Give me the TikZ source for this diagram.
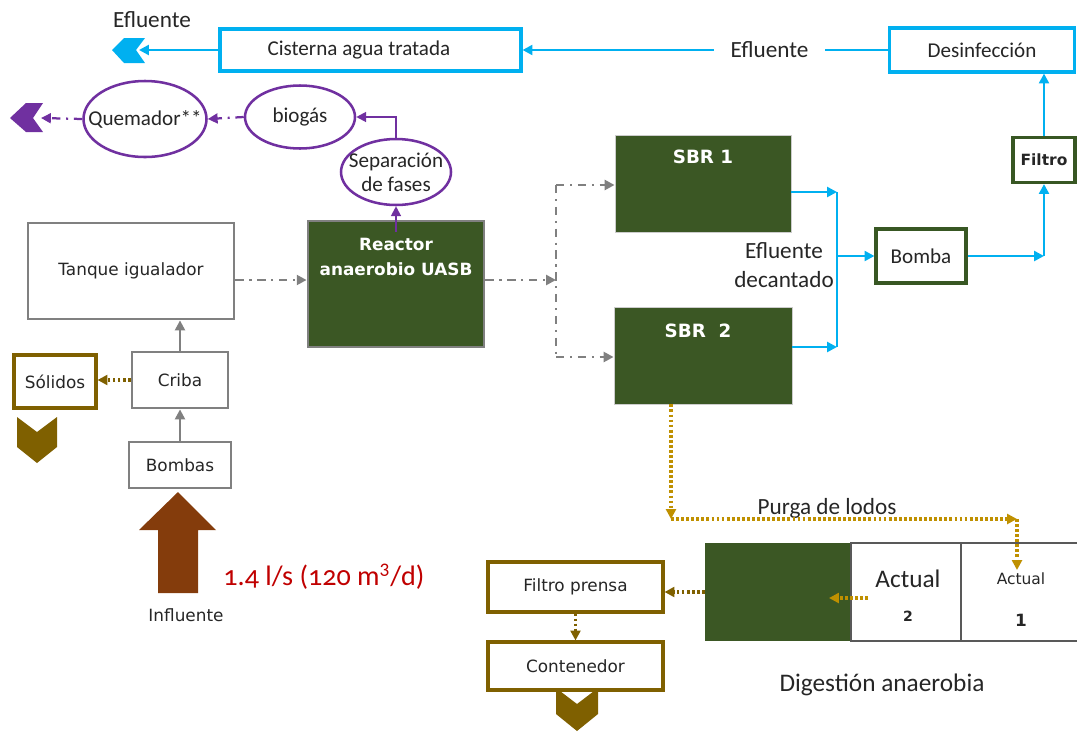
\documentclass[tikz,border=0pt]{standalone}
\usepackage{fontspec}
\setmainfont{Carlito}
\newfontfamily\tahoma{DejaVu Sans}
\newfontfamily\viejos{Carlito}[Numbers=OldStyle]
\usepackage{tikz}
\usetikzlibrary{shapes.geometric, arrows.meta}
\usetikzlibrary{positioning}
\usetikzlibrary{calc}

\definecolor{azul}{HTML}{00B0F0}
\definecolor{morado}{HTML}{7030A0}
\definecolor{verde}{HTML}{3B5724}
\definecolor{verdeborde}{HTML}{385723}
\definecolor{gris}{HTML}{808080}
\definecolor{grisosc}{HTML}{595959}
\definecolor{oliva}{HTML}{7F6000}
\definecolor{oro}{HTML}{BF9000}
\definecolor{cafe}{HTML}{843C0C}
\definecolor{rojo}{HTML}{C00000}
\definecolor{texto}{HTML}{262626}

\newcommand{\fcuerpo}{\fontsize{15}{18}\selectfont}
\newcommand{\fgrande}{\fontsize{16.5}{20.5}\selectfont}
\newcommand{\ftah}{\tahoma\fontsize{12}{14}\selectfont}

\tikzstyle{caja} = [draw=gris, line width=2pt, fill=white, text=texto, inner sep=0pt, font=\ftah]
\tikzstyle{cajaazul} = [draw=azul, line width=2.2pt, fill=white, text=texto, inner sep=0pt]
\tikzstyle{cajaverde} = [draw=verdeborde, line width=2.2pt, fill=white, text=texto, inner sep=0pt]
\tikzstyle{cajaoliva} = [draw=oliva, line width=2.2pt, fill=white, text=texto, inner sep=0pt, font=\ftah]
\tikzstyle{sbr} = [draw=gris!40, line width=0.6pt, fill=verde, inner sep=0pt]
\tikzstyle{reactor} = [draw=gris, line width=2pt, fill=verde, inner sep=0pt]
\tikzstyle{digverde} = [fill=verde, inner sep=0pt]
\tikzstyle{digcaja} = [draw=grisosc, line width=2pt, fill=white, inner sep=0pt]
\tikzstyle{elipse} = [ellipse, draw=morado, line width=1.8pt, fill=white, inner sep=0pt]
\tikzstyle{blanco} = [text=white, font=\tahoma\bfseries\fontsize{13}{15}\selectfont]
\tikzstyle{flechaazul} = [draw=azul, line width=2pt, ->]
\tikzstyle{lineaazul} = [draw=azul, line width=2pt]
\tikzstyle{discgris} = [draw=gris, line width=1.8pt, dash pattern=on 6pt off 4pt on 1.5pt off 4pt, ->]
\tikzstyle{lineagris} = [draw=gris, line width=1.8pt, dash pattern=on 6pt off 4pt on 1.5pt off 4pt]
\tikzstyle{flechagris} = [draw=gris, line width=1.6pt, ->]
\tikzstyle{flechamorada} = [draw=morado, line width=1.4pt, ->]
\tikzstyle{discmorada} = [draw=morado, line width=1.6pt, dash pattern=on 6pt off 4pt on 1.5pt off 4pt, ->]
\tikzstyle{puntooro} = [draw=oro, line width=2.2pt, dash pattern=on 2pt off 1.6pt, ->]
\tikzstyle{puntooliva} = [draw=oliva, line width=2.2pt, dash pattern=on 2pt off 1.6pt, ->]

\begin{document}
\begin{tikzpicture}[x=0.025cm, y=-0.025cm, font=\fcuerpo, text=texto,
  >={Triangle[length=7pt,width=7pt]},
  dims/.style 2 args={minimum width=#1*0.025cm, minimum height=#2*0.025cm}]
\useasboundingbox (0,0) rectangle (1077,731);

\node[cajaazul, dims={301}{42}] (cisterna) at (370.5,50) {Cisterna agua tratada\hspace*{1.1em}};
\node[cajaazul, dims={185}{44}] (desinf) at (982,50) {Desinfección};
\node[cajaverde, dims={62}{45}, font=\tahoma\bfseries\fontsize{11}{13}\selectfont] (filtro) at (1044,160) {Filtro};
\node[cajaverde, dims={90}{54}] (bomba) at (921,256) {Bomba};
\node[sbr, dims={176}{97}] (sbr1) at (703,183.5) {};
\node[sbr, dims={178}{97}] (sbr2) at (703,355.5) {};
\node[reactor, dims={176}{126}] (reactor) at (396,284) {};
\node[caja, dims={206}{96}] (tanque) at (131,271) {Tanque igualador};
\node[caja, dims={96}{56}] (criba) at (180,380) {Criba};
\node[cajaoliva, dims={82}{53}] (solidos) at (55,381.5) {Sólidos};
\node[caja, dims={102}{46}] (bombas) at (180,465) {Bombas};
\node[elipse, dims={123}{76}, label=center:Quemador**] (quemador) at (145,119) {};
\node[elipse, dims={110}{63}, label=center:biogás] (biogas) at (300,117) {};
\node[elipse, dims={110}{66}, label={[align=center, font=\fontsize{15}{17}\selectfont]center:Separación\\de fases}] (separ) at (396,172) {};
\node[cajaoliva, dims={175}{50}] (fprensa) at (575.5,587) {Filtro prensa};
\node[cajaoliva, dims={175}{48}] (contenedor) at (575.5,666) {Contenedor};
\node[digverde, dims={146}{98}] (dig) at (778,592) {};
\node[digcaja, dims={110}{98}] (act2) at (906,592) {};
\node[digcaja, dims={130}{98}] (act1) at (1026,592) {};

\node[blanco] (sbr1txt) at (703,157) {SBR 1};
\node[blanco] (sbr2txt) at (698,331) {SBR\ \ 2};
\node[blanco, align=center, font=\tahoma\bfseries\fontsize{12}{17.7}\selectfont] (reactortxt) at (396,257) {Reactor\\anaerobio UASB};
\node[font=\fontsize{18}{20}\selectfont] (act2txt) at (908,579) {Actual};
\node[font=\tahoma\bfseries\fontsize{10}{12}\selectfont] (act2num) at (908,616) {2};
\node[font=\tahoma\fontsize{11}{13}\selectfont] (act1txt) at (1021,579) {Actual};
\node[font=\tahoma\bfseries\fontsize{12}{14}\selectfont] (act1num) at (1021,620) {1};
\node[font=\fgrande] (eflsal) at (152,20) {Efluente};
\node[font=\fgrande, align=center] (decant) at (784,265) {Efluente\\decantado};
\node[font=\fgrande] (purga) at (827,508) {Purga de lodos};
\node[font=\fontsize{18}{20}\selectfont] (digest) at (882,685) {Digestión anaerobia};
\node[font=\ftah] (influente) at (186,615) {Influente};
\node[text=rojo, font=\viejos\fontsize{20}{22}\selectfont] (caudal) at (324,577) {1.4 l/s (120 m\textsuperscript{3}/d)};

\coordinate (efl) at (139,50);
\coordinate (quemout) at (41,118);
\coordinate (feed) at (556,280);
\coordinate (split1) at (556,185);
\coordinate (split2) at (556,357);
\coordinate (jtop) at (837,192);
\coordinate (jbot) at (837,347);
\coordinate (jmid) at (837,256);
\coordinate (jfil) at (1044,256);
\coordinate (purga1) at (671,519);
\coordinate (purga2) at (1017,519);
\coordinate (purga3) at (1017,570);
\coordinate (lodo1) at (868,598);
\coordinate (lodo2) at (829,598);

\fill[azul] (112,50) -- (124,38) -- (145,38) -- (136,50) -- (145,63) -- (124,63) -- cycle;
\fill[morado] (10,118) -- (26,103) -- (43,103) -- (33,118) -- (43,132) -- (26,132) -- cycle;
\fill[oliva] (17,417) -- (37,432) -- (57,417) -- (57,447) -- (37,463) -- (17,447) -- cycle;
\fill[oliva] (556,688) -- (577,704) -- (598,688) -- (598,714) -- (577,731) -- (556,714) -- cycle;
\fill[cafe] (158,593) -- (158,530) -- (139,530) -- (178,492) -- (216,530) -- (198,530) -- (198,593) -- cycle;

\draw[flechaazul] (desinf.west) -- node[pos=0.324, fill=white, inner xsep=12pt, font=\fgrande] (eflmed) {Efluente} (cisterna.east);
\draw[flechaazul] (cisterna.west) -- (efl);
\draw[flechaazul] (filtro.north) -- (filtro.north |- desinf.south);
\draw[flechaazul] (bomba.east) -- (jfil);
\draw[flechaazul] (jfil) -- (filtro.south);
\draw[flechaazul] (sbr1.east |- jtop) -- (jtop);
\draw[flechaazul] (sbr2.east |- jbot) -- (jbot);
\draw[lineaazul] (jtop) -- (jbot);
\draw[flechaazul] (jmid) -- (bomba.west);
\draw[discgris] (tanque.east |- feed) -- (reactor.west |- feed);
\draw[discgris] (reactor.east |- feed) -- (feed);
\draw[lineagris] (split1) -- (split2);
\draw[discgris] (split1) -- (sbr1.west |- split1);
\draw[discgris] (split2) -- (sbr2.west |- split2);
\draw[flechagris] (criba.north) -- (tanque.south -| criba.north);
\draw[flechagris] (bombas.north) -- (criba.south);
\draw[flechamorada] ($(reactor.north)+(0,12)$) -- (separ.south);
\draw[flechamorada] (separ.north) |- (biogas.east);
\draw[discmorada] (biogas.west) -- (quemador.east);
\draw[discmorada] (quemador.west) -- (quemout);
\draw[puntooro] (sbr2.south -| purga1) -- (purga1);
\draw[puntooro] (purga1) -- (purga2);
\draw[puntooro] (purga2) -- (purga3);
\draw[puntooliva] (criba.west) -- (solidos.east |- criba.west);
\draw[puntooro] (lodo1) -- (lodo2);
\draw[puntooliva] (dig.west) -- (dig.west -| fprensa.east);
\draw[puntooliva] (fprensa.south) -- (contenedor.north);
\end{tikzpicture}
\end{document}
